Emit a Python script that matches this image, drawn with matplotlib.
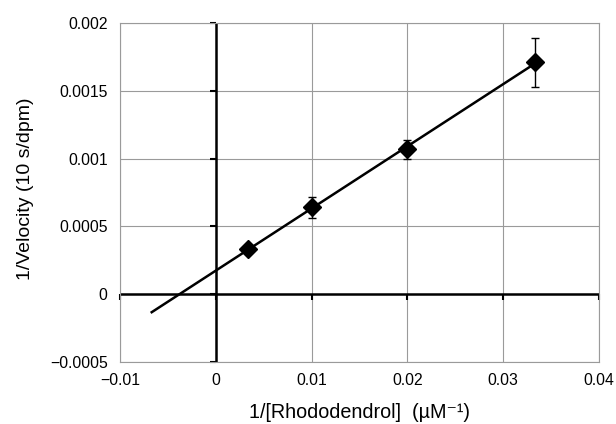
import numpy as np
import matplotlib
matplotlib.use("Agg")
import matplotlib.pyplot as plt

plt.rcParams['font.family'] = ['Liberation Sans', 'DejaVu Sans']

# Lineweaver-Burk data
inv_conc = [1 / 300, 0.01, 0.02, 1 / 30]
inv_vel = [0.00033, 0.00064, 0.00107, 0.00171]
err_vel = [0.00002, 0.00008, 0.00007, 0.00018]

line_x_range = [-0.0067, 1 / 30]

xticks = [-0.01, 0, 0.01, 0.02, 0.03, 0.04]
xtick_labels = ["\u22120.01", "0", "0.01", "0.02", "0.03", "0.04"]
yticks = [-0.0005, 0, 0.0005, 0.001, 0.0015, 0.002]
ytick_labels = ["\u22120.0005", "0", "0.0005", "0.001", "0.0015", "0.002"]

fig = plt.figure(figsize=(6.16, 4.24), dpi=100)
ax = fig.add_axes([0.195, 0.146, 0.777, 0.8])

ax.set_xlim(-0.01, 0.04)
ax.set_ylim(-0.0005, 0.002)

# grid and frame
ax.grid(True, color="#9a9a9a", linewidth=0.8)
ax.set_axisbelow(True)
for s in ax.spines.values():
    s.set_color("#9a9a9a")
    s.set_linewidth(0.8)

ax.set_xticks(xticks)
ax.set_xticklabels(xtick_labels, fontsize=11.3)
ax.set_yticks(yticks)
ax.set_yticklabels(ytick_labels, fontsize=11.3)
ax.tick_params(axis="y", length=0, pad=9)
ax.tick_params(axis="x", length=0, pad=8)

# axes through the origin
ax.axhline(0, color="black", linewidth=1.8, zorder=2)
ax.axvline(0, color="black", linewidth=1.8, zorder=2)
ax.plot(np.zeros(len(yticks)), yticks, ls="none", marker=0, ms=4, mew=1.5, color="black", clip_on=False)
ax.plot(xticks, np.zeros(len(xticks)), ls="none", marker=3, ms=4, mew=1.5, color="black", clip_on=False)

# linear fit
slope, intercept = np.polyfit(inv_conc, inv_vel, 1)
lx = np.array(line_x_range)
ax.plot(lx, slope * lx + intercept, color="black", linewidth=1.8, zorder=3)

ax.errorbar(inv_conc, inv_vel, yerr=err_vel, fmt="D", color="black", ms=9.5,
            ecolor="black", elinewidth=1, capsize=3, capthick=1, zorder=4)

ax.set_xlabel("1/[Rhododendrol]  (\u00b5M\u207b\u00b9)", fontsize=14.2, va="center")
ax.xaxis.set_label_coords(0.5, -0.150)
ax.set_ylabel("1/Velocity (10 s/dpm)", fontsize=14, va="center")
ax.yaxis.set_label_coords(-0.198, 0.51)

fig.savefig("out.png", dpi=100)
